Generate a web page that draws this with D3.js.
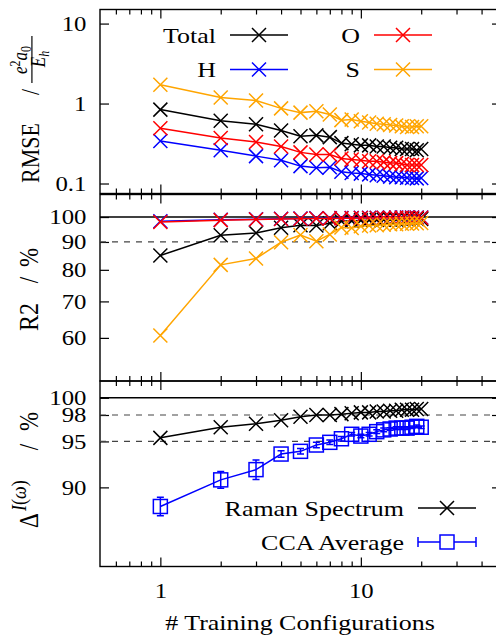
<!DOCTYPE html>
<html>
<head>
<meta charset="utf-8">
<script src="https://cdn.jsdelivr.net/npm/d3@7"></script>
<style>
  body { margin: 0; background: #fff; }
  text { font-family: "Liberation Serif", serif; fill: #000; }
</style>
</head>
<body>
<svg id="chart" width="496" height="635"></svg>
<script>
// ---- data -------------------------------------------------------------
const trainingConfigs = [1, 2, 3, 4, 5, 6, 7, 8, 9, 10, 11, 12, 13, 14, 15, 16, 17, 18, 19, 20];

// RMSE of the polarizability prediction (e^2 a0 / E_h)
const rmseTotal = [0.84, 0.61, 0.55, 0.46, 0.39, 0.40, 0.38, 0.32, 0.31, 0.30, 0.30, 0.29, 0.29, 0.28, 0.28, 0.27, 0.27, 0.27, 0.26, 0.27];
const rmseH     = [0.34, 0.26, 0.22, 0.195, 0.165, 0.157, 0.16, 0.14, 0.135, 0.133, 0.13, 0.127, 0.125, 0.122, 0.12, 0.12, 0.118, 0.117, 0.116, 0.117];
const rmseO     = [0.49, 0.37, 0.33, 0.29, 0.245, 0.23, 0.23, 0.205, 0.20, 0.195, 0.19, 0.19, 0.185, 0.18, 0.18, 0.175, 0.17, 0.17, 0.17, 0.17];
const rmseS     = [1.72, 1.19, 1.09, 0.87, 0.77, 0.80, 0.73, 0.62, 0.63, 0.60, 0.58, 0.56, 0.55, 0.54, 0.53, 0.52, 0.51, 0.51, 0.52, 0.52];

// coefficient of determination (%)
const r2Total = [85.0, 92.6, 93.5, 95.6, 96.6, 96.5, 97.4, 98.2, 98.4, 98.6, 98.7, 98.8, 98.9, 99.0, 99.0, 99.1, 99.1, 99.2, 99.2, 99.2];
const r2H     = [98.2, 98.9, 99.1, 99.3, 99.4, 99.5, 99.5, 99.6, 99.6, 99.7, 99.7, 99.7, 99.7, 99.8, 99.8, 99.8, 99.8, 99.8, 99.8, 99.8];
const r2O     = [97.9, 98.7, 99.0, 99.2, 99.3, 99.4, 99.4, 99.5, 99.5, 99.6, 99.6, 99.6, 99.7, 99.7, 99.7, 99.7, 99.7, 99.7, 99.7, 99.7];
const r2S     = [60.6, 81.7, 83.9, 89.9, 92.7, 90.3, 92.9, 95.7, 95.5, 96.2, 96.5, 96.6, 96.8, 97.0, 97.0, 97.2, 97.2, 97.3, 97.4, 97.5];

// spectral agreement (%)
const ramanSpectrum = [95.4, 96.6, 97.0, 97.4, 97.8, 98.0, 98.0, 98.1, 98.2, 98.3, 98.3, 98.4, 98.4, 98.5, 98.5, 98.6, 98.6, 98.6, 98.7, 98.7];
const ccaAverage    = [88.0, 90.8, 91.9, 93.6, 93.9, 94.6, 94.9, 95.3, 95.8, 95.6, 95.8, 96.1, 96.3, 96.4, 96.5, 96.5, 96.5, 96.6, 96.7, 96.6];
const ccaError      = [0.95, 0.9, 1.05, 0.35, 0.3, 0.3, 0.25, 0.25, 0.2, 0.2, 0.2, 0.2, 0.2, 0.15, 0.15, 0.15, 0.15, 0.15, 0.15, 0.15];

// ticks
const xMajorTicks = [1, 10];
const xMinorTicks = [0.6, 0.7, 0.8, 0.9, 2, 3, 4, 5, 6, 7, 8, 9, 20, 30, 40];
const rmseTicks = [0.1, 1, 10];
const r2Ticks = [60, 70, 80, 90, 100];
const deltaTicks = [90, 95, 98, 100];
const r2Guides = [90];
const deltaGuides = [98, 95];

// ---- layout -----------------------------------------------------------
const FONT = "Liberation Serif";
const SX = 1.18;            // horizontal glyph stretch
const FS = 21;              // tick label size
const FL = 22;              // legend / title size
const svg = d3.select("#chart");
const x = d3.scaleLog().domain([0.5, 50]).range([100, 501]);
const xL = 100, xR = 501;

const yRmse  = d3.scaleLog().domain([0.075, 15]).range([193.5, 9.5]);
const yR2    = d3.scaleLog().domain([50, 110]).range([381, 194.5]);
const yDelta = d3.scaleLog().domain([82, 102]).range([566.5, 381]);

function frame(y, yTicks, showXLabels) {
  const [yb, yt] = y.range();
  const g = svg.append("g");
  // x ticks on bottom and top edges, pointing inward
  g.append("g").attr("transform", `translate(0,${yb})`)
    .call(d3.axisBottom(x).tickValues(xMajorTicks).tickSizeInner(-9).tickSizeOuter(0)
      .tickPadding(17).tickFormat(showXLabels ? d3.format("d") : () => ""));
  g.append("g").attr("transform", `translate(0,${yb})`)
    .call(d3.axisBottom(x).tickValues(xMinorTicks).tickSizeInner(-5).tickSizeOuter(0).tickFormat(() => ""));
  g.append("g").attr("transform", `translate(0,${yt})`)
    .call(d3.axisTop(x).tickValues(xMajorTicks).tickSizeInner(-9).tickSizeOuter(0).tickFormat(() => ""));
  g.append("g").attr("transform", `translate(0,${yt})`)
    .call(d3.axisTop(x).tickValues(xMinorTicks).tickSizeInner(-5).tickSizeOuter(0).tickFormat(() => ""));
  // y ticks: labelled on the left, mirrored on the right
  g.append("g").attr("transform", `translate(${xL},0)`)
    .call(d3.axisLeft(y).tickValues(yTicks).tickSizeInner(-9).tickSizeOuter(0).tickPadding(11.5)
      .tickFormat(d => String(d)));
  g.append("g").attr("transform", `translate(${xR},0)`)
    .call(d3.axisRight(y).tickValues(yTicks).tickSizeInner(-9).tickSizeOuter(0).tickFormat(() => ""));
  g.selectAll(".domain").remove();
  g.selectAll("g").attr("font-family", FONT);
  g.selectAll(".tick line").attr("stroke", "#000").attr("stroke-width", 1.2);
  g.selectAll(".tick text").attr("font-size", FS).attr("font-family", FONT)
    .attr("fill", "#000").attr("transform", `scale(${SX},1)`);
  g.append("rect").attr("x", xL).attr("y", yt).attr("width", xR - xL).attr("height", yb - yt)
    .attr("fill", "none").attr("stroke", "#000").attr("stroke-width", 1.4);
  return g;
}

function crossPath(s) {
  return `M${-s},${-s}L${s},${s}M${-s},${s}L${s},${-s}`;
}
const CROSS = 7;

function drawSeries(g, y, values, color) {
  const pts = trainingConfigs.map((c, i) => [x(c), y(values[i])]);
  g.append("path").attr("d", d3.line()(pts)).attr("fill", "none")
    .attr("stroke", color).attr("stroke-width", 1.5);
  g.selectAll(null).data(pts).enter().append("path")
    .attr("transform", d => `translate(${d[0]},${d[1]})`)
    .attr("d", crossPath(CROSS)).attr("stroke", color).attr("stroke-width", 1.5).attr("fill", "none");
}

function label(x0, y0, str, anchor, size) {
  const g = svg.append("g").attr("transform", `translate(${x0},${y0}) scale(${SX},1)`);
  return g.append("text").attr("font-family", FONT).attr("text-anchor", anchor || "start")
    .attr("font-size", size || FL).text(str);
}

function legendCross(xt, yc, name, color) {
  label(xt, yc + 7.5, name, "end");
  svg.append("line").attr("x1", xt + 14).attr("x2", xt + 72).attr("y1", yc).attr("y2", yc)
    .attr("stroke", color).attr("stroke-width", 1.5);
  svg.append("path").attr("transform", `translate(${xt + 43},${yc})`).attr("d", crossPath(CROSS))
    .attr("stroke", color).attr("stroke-width", 1.5).attr("fill", "none");
}

// vertical title: text reads upward with its baseline at screen x = bx;
// each piece is placed by the screen y of its lower end (x = -y)
function vtitle(bx) {
  return svg.append("g").attr("transform", `translate(${bx},0) scale(${SX},1) rotate(-90)`)
    .attr("font-family", FONT);
}

const defs = svg.append("defs");
[["c2", yR2], ["c3", yDelta]].forEach(([id, y]) => {
  defs.append("clipPath").attr("id", id).append("rect")
    .attr("x", xL).attr("y", y.range()[1]).attr("width", xR - xL).attr("height", y.range()[0] - y.range()[1]);
});

// ---- panel 1: RMSE ------------------------------------------------------
frame(yRmse, rmseTicks, false);
const p1 = svg.append("g");
drawSeries(p1, yRmse, rmseTotal, "#000000");
drawSeries(p1, yRmse, rmseH, "#0000ff");
drawSeries(p1, yRmse, rmseO, "#ff0000");
drawSeries(p1, yRmse, rmseS, "#ffa500");
legendCross(216, 35, "Total", "#000000");
legendCross(216, 69.5, "H", "#0000ff");
legendCross(360, 35, "O", "#ff0000");
legendCross(360, 69.5, "S", "#ffa500");

// ---- panel 2: R2 ---------------------------------------------------------
frame(yR2, r2Ticks, false);
const p2 = svg.append("g").attr("clip-path", "url(#c2)");
p2.append("line").attr("x1", xL).attr("x2", xR).attr("y1", yR2(100)).attr("y2", yR2(100))
  .attr("stroke", "#000").attr("stroke-width", 1.5);
r2Guides.forEach(v => p2.append("line").attr("x1", xL).attr("x2", xR).attr("y1", yR2(v)).attr("y2", yR2(v))
  .attr("stroke", "#444").attr("stroke-width", 1.2).attr("stroke-dasharray", "6,6"));
drawSeries(p2, yR2, r2Total, "#000000");
drawSeries(p2, yR2, r2H, "#0000ff");
drawSeries(p2, yR2, r2O, "#ff0000");
drawSeries(p2, yR2, r2S, "#ffa500");

// ---- panel 3: spectral agreement ----------------------------------------
frame(yDelta, deltaTicks, true);
const p3 = svg.append("g").attr("clip-path", "url(#c3)");
p3.append("line").attr("x1", xL).attr("x2", xR).attr("y1", yDelta(100)).attr("y2", yDelta(100))
  .attr("stroke", "#000").attr("stroke-width", 1.5);
deltaGuides.forEach(v => p3.append("line").attr("x1", xL).attr("x2", xR).attr("y1", yDelta(v)).attr("y2", yDelta(v))
  .attr("stroke", "#444").attr("stroke-width", 1.2).attr("stroke-dasharray", "6,6"));
drawSeries(p3, yDelta, ramanSpectrum, "#000000");

const blue = "#0000ff";
const cca = trainingConfigs.map((c, i) => ({ x: x(c), y: yDelta(ccaAverage[i]),
  lo: yDelta(ccaAverage[i] - ccaError[i]), hi: yDelta(ccaAverage[i] + ccaError[i]) }));
p3.append("path").attr("d", d3.line().x(d => d.x).y(d => d.y)(cca)).attr("fill", "none")
  .attr("stroke", blue).attr("stroke-width", 1.5);
const eb = p3.selectAll(null).data(cca).enter().append("g");
eb.append("path").attr("d", d => `M${d.x},${d.hi}V${d.lo}M${d.x - 3.5},${d.hi}H${d.x + 3.5}M${d.x - 3.5},${d.lo}H${d.x + 3.5}`)
  .attr("stroke", blue).attr("stroke-width", 1.5).attr("fill", "none");
eb.append("rect").attr("x", d => d.x - 7).attr("y", d => d.y - 7).attr("width", 14).attr("height", 14)
  .attr("fill", "none").attr("stroke", blue).attr("stroke-width", 1.5);

// legend
legendCross(404, 508, "Raman Spectrum", "#000000");
label(404, 549.5, "CCA Average", "end");
svg.append("path").attr("d", "M418,542H476M418,537V547M476,537V547")
  .attr("stroke", blue).attr("stroke-width", 1.5).attr("fill", "none");
svg.append("rect").attr("x", 440).attr("y", 535).attr("width", 14).attr("height", 14)
  .attr("fill", "#fff").attr("stroke", blue).attr("stroke-width", 1.5);

// ---- axis titles ---------------------------------------------------------
label(300, 630, "# Training Configurations", "middle", FL);

// RMSE / (e^2 a0)/(E_h)
const t1 = vtitle(39);
t1.append("text").attr("x", -183).attr("font-size", FL).text("RMSE");
t1.append("text").attr("x", -92).attr("text-anchor", "middle").attr("font-size", FL).text("/");
const num = t1.append("text").attr("x", -60).attr("y", -10).attr("text-anchor", "middle").attr("font-size", 17);
num.append("tspan").attr("font-style", "italic").text("e");
num.append("tspan").attr("font-size", 12).attr("dy", -6).text("2");
num.append("tspan").attr("font-style", "italic").attr("dy", 6).text("a");
num.append("tspan").attr("font-size", 12).attr("dy", 3).text("0");
t1.append("line").attr("x1", -83).attr("x2", -36).attr("y1", -6).attr("y2", -6)
  .attr("stroke", "#000").attr("stroke-width", 1);
const den = t1.append("text").attr("x", -59).attr("y", 5.5).attr("text-anchor", "middle").attr("font-size", 17);
den.append("tspan").attr("font-style", "italic").text("E");
den.append("tspan").attr("font-style", "italic").attr("font-size", 12).attr("dy", 3).text("h");

// R2 / %
const t2 = vtitle(38);
t2.append("text").attr("x", -331).attr("font-size", 24).text("R2");
t2.append("text").attr("x", -280).attr("text-anchor", "middle").attr("font-size", 23).text("/");
t2.append("text").attr("x", -267).attr("font-size", 23).text("%");

// Delta^{I(omega)} / %
const t3 = vtitle(38);
t3.append("text").attr("x", -528).attr("font-size", 23).text("Δ");
const sup = t3.append("text").attr("x", -511).attr("y", -10).attr("font-size", 18);
sup.append("tspan").attr("font-style", "italic").text("I");
sup.append("tspan").text("(");
sup.append("tspan").attr("font-style", "italic").text("ω");
sup.append("tspan").text(")");
t3.append("text").attr("x", -447).attr("text-anchor", "middle").attr("font-size", 23).text("/");
t3.append("text").attr("x", -431).attr("font-size", 23).text("%");
</script>
</body>
</html>
